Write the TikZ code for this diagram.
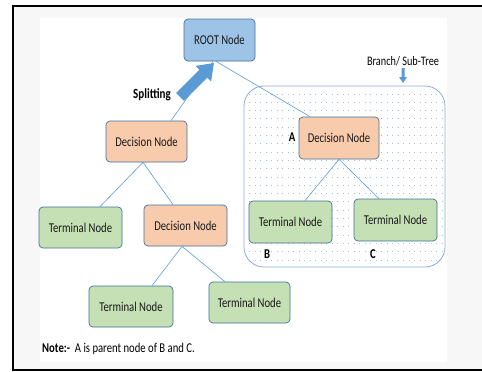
\documentclass[tikz,border=0pt]{standalone}
\usepackage{graphicx}
\usepackage{fontspec}
\setmainfont{Carlito}
\definecolor{nodeedge}{HTML}{41719C}
\definecolor{rootfill}{HTML}{9DC3E6}
\definecolor{decfill}{HTML}{F8CBAD}
\definecolor{termfill}{HTML}{C5E0B4}
\definecolor{linkblue}{HTML}{5B9BD5}
\definecolor{boxedge}{HTML}{8FAADC}
\definecolor{griddot}{HTML}{9FBFE0}
% narrow, tall lettering
\newcommand{\narrow}[1]{\scalebox{0.79}[1]{#1}}
\tikzset{
  treenode/.style={draw=nodeedge, line width=0.7pt, rounded corners=4pt,
    inner sep=0pt, font=\fontsize{13.5}{15}\selectfont, text=black!90},
  rootnode/.style={treenode, fill=rootfill, minimum width=71pt, minimum height=42pt},
  decnode/.style={treenode, fill=decfill, minimum width=81pt, minimum height=41pt},
  termnode/.style={treenode, fill=termfill, minimum width=83pt, minimum height=41pt},
  link/.style={draw=linkblue, line width=0.6pt},
  tag/.style={font=\fontsize{13.5}{15}\selectfont\bfseries, inner sep=0pt},
}
\begin{document}
\begin{tikzpicture}[x=1pt, y=-1pt]
\useasboundingbox (0,0) rectangle (482,372);
% page background and frame
\fill[white] (0,0) rectangle (482,372);
\fill[black!3] (13,6) rectangle (482,370);
\fill[white] (40,18) rectangle (447,362);
\draw[line width=2.5pt, line cap=rect] (482,6) -- (13,6) -- (13,370) -- (482,370);

% branch / sub-tree region with dotted grid
\begin{scope}
  \clip[rounded corners=20pt] (244,86) rectangle (445,267);
  \foreach \yy in {94,102.3,...,266} {
    \draw[griddot, line width=0.9pt, dash pattern=on 0.9pt off 4.6pt] (249,\yy) -- (443,\yy);
  }
\end{scope}
\draw[boxedge, line width=0.8pt, rounded corners=20pt] (244,86) rectangle (445,267);

% nodes
\node[rootnode] (root) at (219.5,40) {\narrow{ROOT Node}};
\node[decnode] (dec1) at (146.5,141.5) {\narrow{Decision Node}};
\node[termnode] (term1) at (80.5,227.5) {\narrow{Terminal Node}};
\node[decnode, minimum width=83pt] (dec2) at (185.5,225.5) {\narrow{Decision Node}};
\node[termnode, minimum width=84pt] (term2) at (131,306.5) {\narrow{Terminal Node}};
\node[termnode, minimum width=81pt] (term3) at (249.5,302.5) {\narrow{Terminal Node}};
\node[decnode, minimum width=80pt, minimum height=42pt] (decA) at (339,138) {\narrow{Decision Node}};
\node[termnode, minimum height=42pt] (termB) at (290.5,222) {\narrow{Terminal Node}};
\node[termnode, minimum height=42pt] (termC) at (395.5,220) {\narrow{Terminal Node}};

% connectors
\draw[link] ([xshift=-6.5pt]root.south) -- ([xshift=24.5pt]dec1.north);
\draw[link] ([xshift=-3.5pt]root.south) -- ([xshift=-29pt]decA.north);
\draw[link] ([xshift=-3.5pt]dec1.south) -- ([xshift=19.5pt]term1.north);
\draw[link] ([xshift=-3.5pt]dec1.south) -- ([xshift=-12.5pt]dec2.north);
\draw[link] ([xshift=-3.5pt]dec2.south) -- ([xshift=21pt]term2.north);
\draw[link] ([xshift=-3.5pt]dec2.south) -- ([xshift=-24.5pt]term3.north);
\draw[link] (decA.south) -- ([xshift=14.5pt]termB.north);
\draw[link] (decA.south) -- ([xshift=-16.5pt]termC.north);

% splitting block arrow
\begin{scope}[shift={(180,97)}, rotate=45]
  \fill[linkblue] (0,-5.5) -- (33,-5.5) -- (33,-11) -- (48,0) -- (33,11) -- (33,5.5) -- (0,5.5) -- cycle;
\end{scope}
\node[tag, font=\fontsize{14}{16}\selectfont\bfseries] (split) at (152,95) {\narrow{Splitting}};

% branch label and its arrow
\node[font=\fontsize{13}{15}\selectfont, inner sep=0pt] (branch) at (403,61) {\narrow{Branch/ Sub-Tree}};
\fill[linkblue] (401.5,68) -- (404.5,68) -- (404.5,77) -- (407,77) -- (403,83) -- (399,77) -- (401.5,77) -- cycle;

% letters for the sub-tree nodes
\node[tag] (labA) at (292,137) {\narrow{A}};
\node[tag] (labB) at (267,254) {\narrow{B}};
\node[tag] (labC) at (373,254) {\narrow{C}};

% note
\node[anchor=west, inner sep=0pt, font=\fontsize{13.5}{15}\selectfont] (note) at (42,349)
  {\narrow{\textbf{Note:-}\ \ A is parent node of B and C.}};
\end{tikzpicture}
\end{document}
